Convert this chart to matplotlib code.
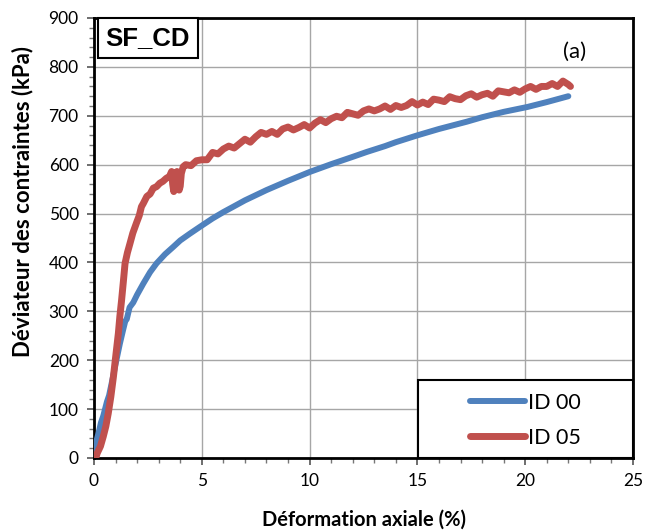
import matplotlib
matplotlib.use("Agg")
import matplotlib.pyplot as plt
from matplotlib.patches import Rectangle
from matplotlib.ticker import MultipleLocator

# ---- data ----
id00_x = [0, 0.1, 0.25, 0.32, 0.43, 0.6, 0.7, 0.82, 1.0, 1.2, 1.35, 1.45, 1.52, 1.65, 1.82,
          2.0, 2.29, 2.6, 2.9, 3.3, 3.68, 4.0, 4.45, 4.92, 5.5, 6.0, 6.46, 7.0, 8.0, 9.0,
          10.0, 11.0, 12.0, 12.65, 13.5, 14.0, 15.0, 16.0, 17.3, 18.0, 19.0, 20.1, 21.0, 22.0]
id00_y = [15, 32, 58, 72, 86, 115, 128, 153, 192, 234, 262, 280, 284, 308, 318,
          334, 357, 380, 398, 417, 432, 445, 459, 473, 490, 503, 514, 527, 548, 567,
          585, 601, 616, 626, 638, 646, 660, 673, 688, 697, 708, 718, 728, 740]

id05_x = [0, 0.08, 0.15, 0.3, 0.43, 0.55, 0.66, 0.78, 0.9, 1.0, 1.13, 1.2, 1.28, 1.36, 1.44,
          1.55, 1.67, 1.8, 1.98, 2.1, 2.2, 2.29, 2.45, 2.6, 2.75, 2.9, 3.05, 3.2, 3.35, 3.5,
          3.6, 3.65, 3.7, 3.75, 3.85, 3.9, 3.95, 4.0, 4.05, 4.14,
          4.25, 4.5, 4.75, 5.0, 5.25, 5.5, 5.75, 6.0, 6.25, 6.5,
          6.75, 7.0, 7.25, 7.5, 7.75, 8.0, 8.25, 8.5, 8.75, 9.0,
          9.25, 9.5, 9.75, 10.0, 10.25, 10.5, 10.75, 11.0, 11.25, 11.5,
          11.75, 12.0, 12.25, 12.5, 12.75, 13.0, 13.25, 13.5, 13.75, 14.0,
          14.25, 14.5, 14.75, 15.0, 15.25, 15.5, 15.75, 16.0, 16.25, 16.5,
          16.75, 17.0, 17.25, 17.5, 17.75, 18.0, 18.25, 18.5, 18.75, 19.0,
          19.25, 19.5, 19.75, 20.0, 20.25, 20.5, 20.75, 21.0, 21.25, 21.5,
          21.75, 22.0, 22.1]
id05_y = [5, 0, 10, 24, 44, 65, 91, 125, 166, 205, 255, 290, 323, 360, 398,
          420, 439, 460, 482, 496, 514, 521, 535, 540, 552, 555, 562, 566, 572, 576,
          586, 560, 545, 572, 586, 576, 548, 556, 582, 596,
          600, 598, 608, 610, 610, 625, 622, 632, 638, 634,
          643, 652, 646, 657, 666, 662, 668, 662, 673, 677,
          671, 676, 682, 675, 685, 692, 686, 694, 699, 696,
          707, 704, 701, 710, 714, 710, 714, 720, 713, 721,
          717, 721, 729, 722, 728, 723, 734, 732, 729, 739,
          735, 733, 741, 745, 738, 743, 746, 740, 751, 749,
          747, 753, 748, 755, 760, 754, 760, 760, 766, 760,
          771, 764, 760]

xticks = [0, 5, 10, 15, 20, 25]
yticks = [0, 100, 200, 300, 400, 500, 600, 700, 800, 900]
series_labels = ["ID 00", "ID 05"]

blue = "#4F81BD"
red = "#C0504D"

fig = plt.figure(figsize=(6.46, 5.32), dpi=100)
ax = fig.add_axes([94/646, 74/532, 539/646, 440/532])

ax.plot(id00_x, id00_y, color=blue, lw=4.3, solid_capstyle="round",
        solid_joinstyle="round", label=series_labels[0], zorder=3)
ax.plot(id05_x, id05_y, color=red, lw=5.0, solid_capstyle="round",
        solid_joinstyle="round", label=series_labels[1], zorder=4)

ax.set_xlim(0, 25)
ax.set_ylim(0, 900)
ax.set_xticks(xticks)
ax.set_yticks(yticks)
ax.xaxis.set_minor_locator(MultipleLocator(1))
ax.yaxis.set_minor_locator(MultipleLocator(20))
ax.grid(True, which="major", color="#a6a6a6", lw=1.0, zorder=0)
ax.set_axisbelow(True)

for s in ax.spines.values():
    s.set_color("black")
    s.set_linewidth(2.0)

ax.tick_params(which="major", direction="out", length=5, width=1.2, color="#555555",
               labelsize=12.5, pad=6)
ax.tick_params(which="minor", direction="out", length=3.5, width=1.0, color="#777777")
for lab in ax.get_xticklabels() + ax.get_yticklabels():
    lab.set_family("Lato")

ax.set_xlabel("Déformation axiale (%)", fontsize=14.5, fontweight="bold", family="Lato")
ax.set_ylabel("Déviateur des contraintes (kPa)", fontsize=16, fontweight="bold", family="Lato")
ax.xaxis.set_label_coords(0.5, -0.118)
ax.yaxis.set_label_coords(-0.112, 0.584)

# SF_CD label box
ax.text(0.100, 0.9545, "SF_CD", transform=ax.transAxes, ha="center", va="center",
        fontsize=18.5, fontweight="bold", family="Liberation Sans", zorder=6,
        bbox=dict(boxstyle="square,pad=0.3", fc="white", ec="black", lw=1.5))
ax.text(0.892, 0.922, "(a)", transform=ax.transAxes, ha="center", va="center",
        fontsize=16, family="Lato", zorder=6)

# legend box
ax.add_patch(Rectangle((324/539, 0), 215/539, 78/440, transform=ax.transAxes,
                       fc="white", ec="black", lw=1.5, zorder=5, clip_on=False))
leg = ax.legend(loc="center", bbox_to_anchor=(0.80, 0.086), frameon=False,
                prop={"family": "Lato", "size": 15.5}, handlelength=2.55,
                handletextpad=0.15, labelspacing=0.7, borderpad=0)
leg.set_zorder(6)

fig.savefig("out.png", dpi=100)
